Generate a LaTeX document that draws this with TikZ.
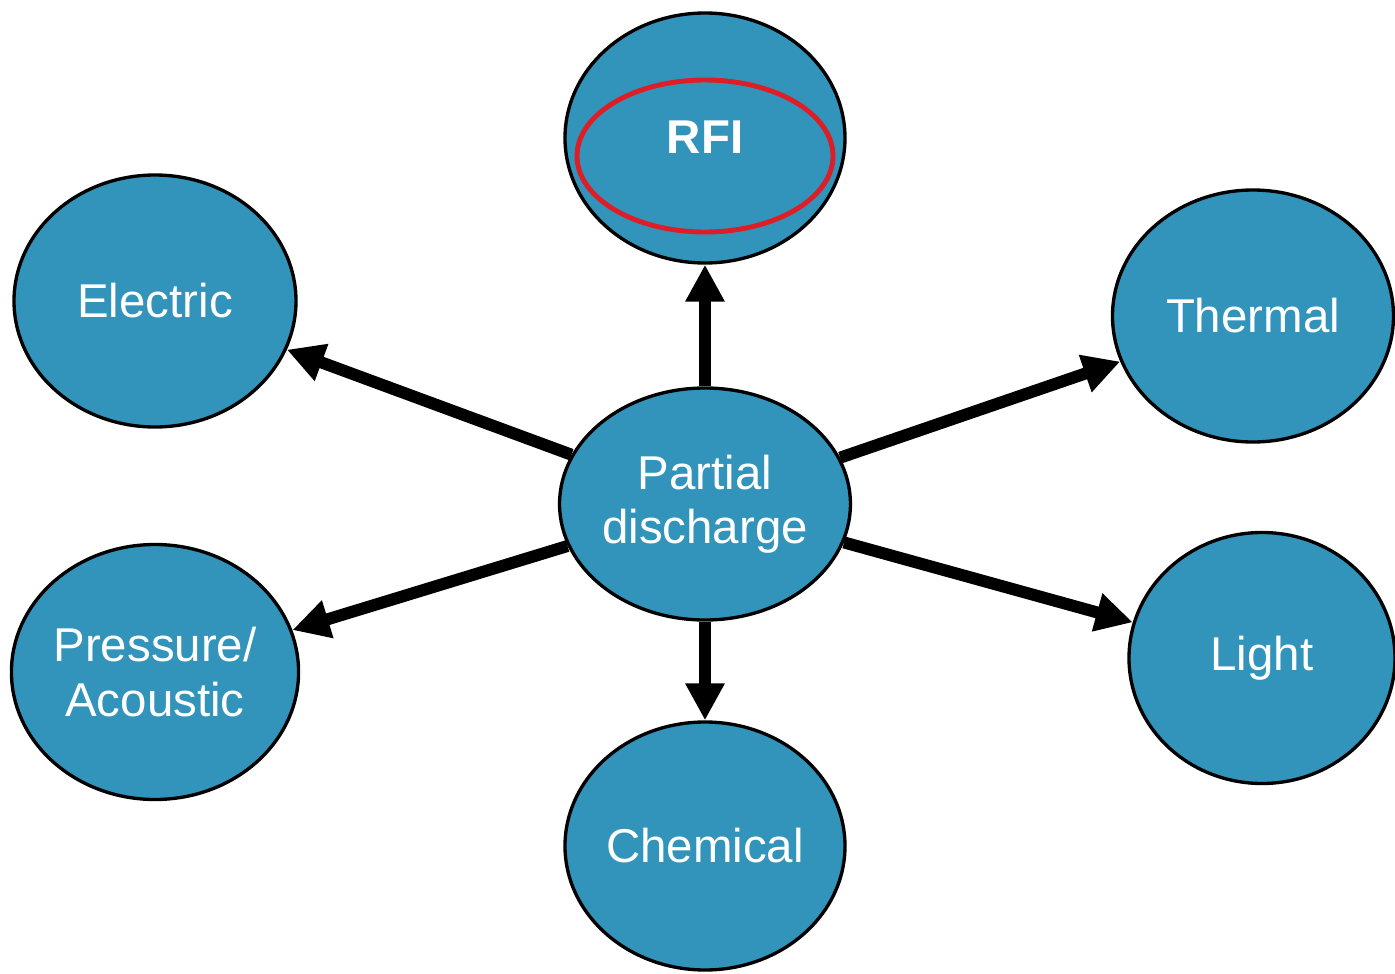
\documentclass[tikz,border=0pt]{standalone}
\usepackage{fontspec}
\setmainfont{Liberation Sans}
\usetikzlibrary{shapes.geometric}
\usetikzlibrary{arrows.meta}

\definecolor{pdblue}{RGB}{50,148,186}
\definecolor{ringred}{RGB}{222,30,38}

\begin{document}
\begin{tikzpicture}[line join = round,
  blob/.style = {ellipse, draw = black, line width = 1.9pt, fill = pdblue,
    text = white, inner sep = 0pt, align = center,
    font = \fontsize{27}{31}\selectfont},
  link/.style = {line width = 0.24cm,
    -{Triangle[length = 0.74cm, width = 0.74cm]}}]
  \useasboundingbox (0, 0) rectangle (27.9, -19.48);

  \node[blob, minimum width = 5.6cm, minimum height = 5cm] (rfi) at (14.1, -2.76) {};
  \draw[ringred, line width = 2.8pt] (14.1, -3.12) ellipse [x radius = 2.56, y radius = 1.52];
  \node[font = \fontsize{27}{31}\selectfont\bfseries, text = white] (rfitext) at (14.1, -2.74) {RFI};

  \node[blob, minimum width = 5.64cm, minimum height = 5.04cm] (elec) at (3.1, -6.02) {Electric};
  \node[blob, minimum width = 5.62cm, minimum height = 5.04cm] (therm) at (25.06, -6.32) {Thermal};
  \node[blob, minimum width = 5.7cm, minimum height = 4.64cm] (pd) at (14.1, -10.08) {Partial\\discharge};
  \node[blob, minimum width = 5.64cm, minimum height = 5.1cm] (press) at (3.1, -13.44) {Pressure/\\Acoustic};
  \node[blob, minimum width = 5.32cm, minimum height = 5.02cm] (light) at (25.24, -13.16) {Light};
  \node[blob, minimum width = 5.6cm, minimum height = 4.96cm] (chem) at (14.1, -16.92) {Chemical};

  \draw[link] (pd) -- (rfi);
  \draw[link] (pd) -- (elec);
  \draw[link] (pd) -- (therm);
  \draw[link] (pd) -- (press);
  \draw[link] (pd) -- (light);
  \draw[link] (pd) -- (chem);
\end{tikzpicture}
\end{document}
